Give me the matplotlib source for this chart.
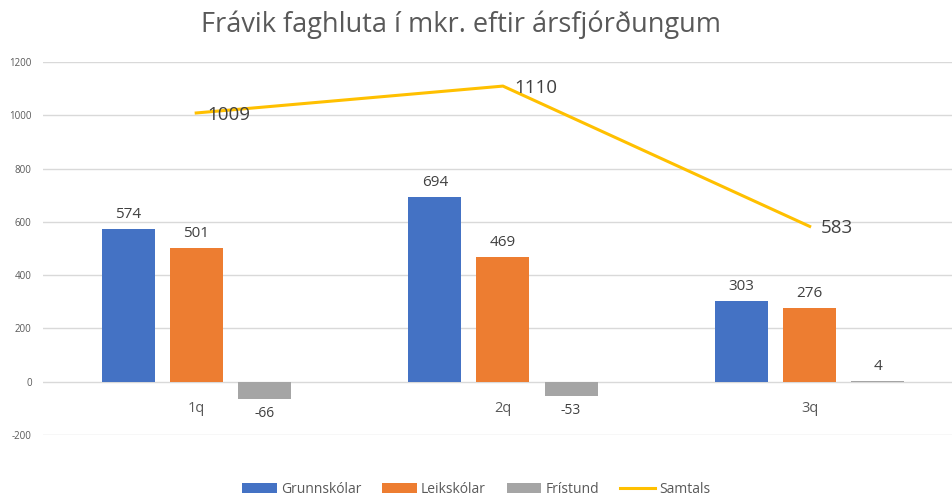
import numpy as np
import matplotlib.pyplot as plt

quarters = ["1q", "2q", "3q"]
grunnskolar = [574, 694, 303]
leikskolar = [501, 469, 276]
fristund = [-66, -53, 4]
samtals = [1009, 1110, 583]

plt.rcParams['font.family'] = ['Open Sans', 'DejaVu Sans']
plt.rcParams['axes.unicode_minus'] = False
text_col = '#595959'

fig = plt.figure(figsize=(9.52, 4.97), dpi=100)
ax = fig.add_axes([0.045, 0.125, 0.955, 0.75])

x = np.arange(len(quarters))
w = 0.173
off = 0.222
series = [(grunnskolar, '#4472C4', 'Grunnskólar'),
          (leikskolar, '#ED7D31', 'Leikskólar'),
          (fristund, '#A5A5A5', 'Frístund')]
handles = []
for i, (vals, col, lab) in enumerate(series):
    pos = x + (i - 1) * off
    handles.append(ax.bar(pos, vals, w, color=col, label=lab, zorder=2))
    for p, v in zip(pos, vals):
        if v >= 0:
            ax.annotate(str(v), (p, v), xytext=(0, 5), textcoords='offset points',
                        ha='center', va='bottom', fontsize=11, color='#404040')
        else:
            ax.annotate(str(v), (p, v), xytext=(0, -5), textcoords='offset points',
                        ha='center', va='top', fontsize=10, color='#404040')

line, = ax.plot(x, samtals, color='#FFC000', lw=2.2, label='Samtals', zorder=3)
handles.append(line)
for p, v in zip(x, samtals):
    ax.annotate(str(v), (p, v), xytext=(8, -1.5), textcoords='offset points',
                ha='left', va='center', fontsize=13.5, color='#404040')

for p, q in zip(x, quarters):
    ax.annotate(q, (p, 0), xytext=(0, -14), textcoords='offset points',
                ha='center', va='top', fontsize=10.5, color=text_col)

ax.set_xlim(-0.5, 2.464)
ax.set_ylim(-200, 1200)
ax.set_yticks(range(-200, 1201, 200))
ax.tick_params(axis='y', labelsize=7, colors=text_col, length=0, pad=8)
ax.set_xticks([])
ax.grid(axis='y', color='#D9D9D9', lw=1, zorder=0)
for s in ax.spines.values():
    s.set_visible(False)

fig.suptitle('Frávik faghluta í mkr. eftir ársfjórðungum', fontsize=19.5, color=text_col,
             x=0.484, y=0.978)
fig.legend(handles=handles, loc='lower center', ncol=4, frameon=False, fontsize=10,
           bbox_to_anchor=(0.5, -0.025), handlelength=2.5, handleheight=0.8,
           labelcolor=text_col, columnspacing=1.5, handletextpad=0.3)

fig.savefig('out.png', dpi=100)
